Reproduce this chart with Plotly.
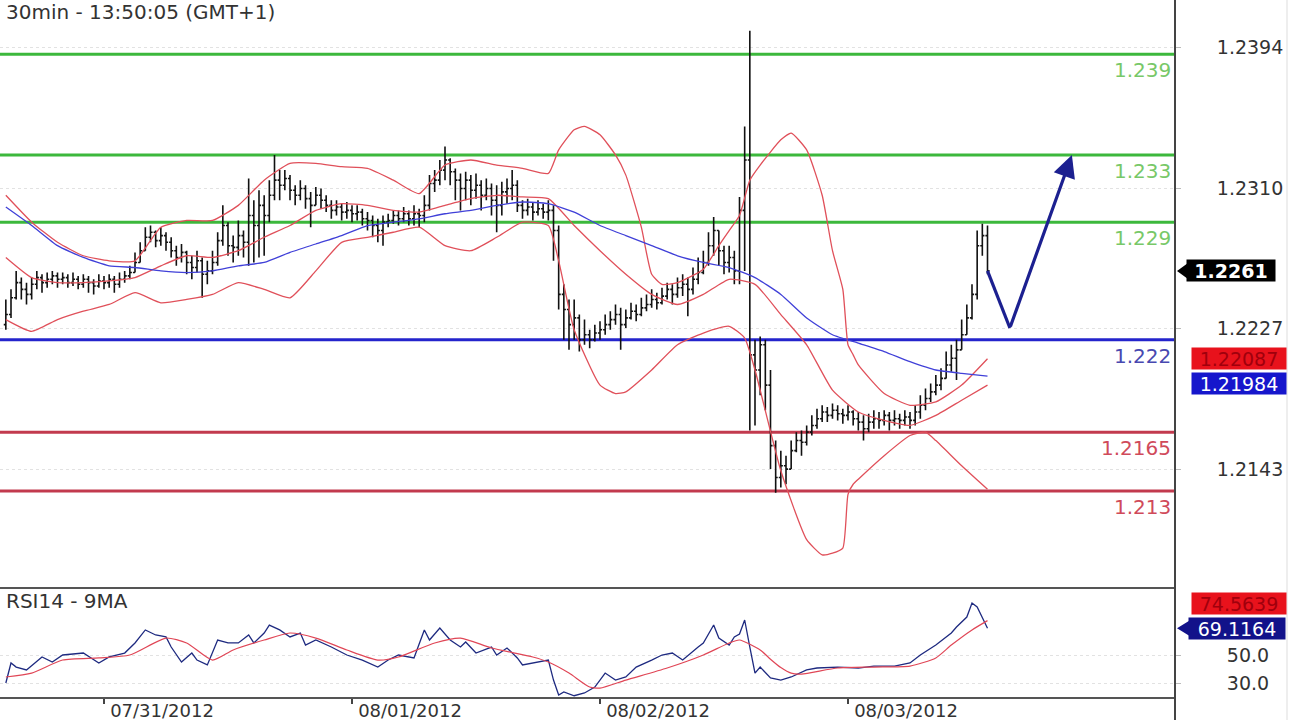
import plotly.graph_objects as go
import pandas as pd

# ---------------- data ----------------
bar_start = "2012-07-30 14:30"
n_bars = 191
bar_times = pd.date_range(bar_start, periods=n_bars, freq="30min")

opens = [1.2229,1.2235,1.2245,1.2254,1.2250,1.2247,1.2253,1.2257,1.2254,1.2256,
         1.2258,1.2256,1.2257,1.2254,1.2256,1.2253,1.2256,1.2254,1.2252,1.2255,
         1.2254,1.2256,1.2253,1.2256,1.2258,1.2260,1.2266,1.2273,1.2281,1.2284,
         1.2279,1.2282,1.2278,1.2273,1.2269,1.2272,1.2266,1.2263,1.2267,1.2259,
         1.2261,1.2266,1.2279,1.2288,1.2276,1.2275,1.2282,1.2278,1.2294,1.2288,
         1.2300,1.2294,1.2306,1.2315,1.2312,1.2316,1.2309,1.2306,1.2310,1.2304,
         1.2300,1.2306,1.2303,1.2300,1.2297,1.2299,1.2296,1.2297,1.2295,1.2296,
         1.2292,1.2291,1.2288,1.2285,1.2290,1.2291,1.2294,1.2292,1.2295,1.2292,
         1.2295,1.2294,1.2300,1.2313,1.2315,1.2321,1.2327,1.2320,1.2315,1.2310,
         1.2315,1.2309,1.2312,1.2306,1.2310,1.2303,1.2300,1.2308,1.2310,1.2312,
         1.2300,1.2297,1.2299,1.2296,1.2298,1.2296,1.2297,1.2285,1.2247,1.2238,
         1.2229,1.2233,1.2220,1.2223,1.2220,1.2224,1.2226,1.2229,1.2232,1.2235,
         1.2229,1.2233,1.2237,1.2235,1.2239,1.2241,1.2244,1.2242,1.2246,1.2250,
         1.2247,1.2251,1.2253,1.2250,1.2256,1.2260,1.2266,1.2276,1.2285,1.2273,
         1.2266,1.2269,1.2261,1.2297,1.2327,1.2211,1.2202,1.2217,1.2193,1.2157,
         1.2138,1.2145,1.2143,1.2154,1.2160,1.2159,1.2165,1.2169,1.2173,1.2177,
         1.2175,1.2178,1.2176,1.2175,1.2177,1.2173,1.2171,1.2167,1.2171,1.2173,
         1.2172,1.2175,1.2172,1.2173,1.2172,1.2174,1.2172,1.2177,1.2181,1.2185,
         1.2189,1.2193,1.2197,1.2205,1.2209,1.2214,1.2223,1.2233,1.2247,1.2276,
         1.2282]

highs = [1.2244,1.2250,1.2261,1.2257,1.2254,1.2257,1.2261,1.2259,1.2260,1.2261,
         1.2260,1.2260,1.2259,1.2260,1.2258,1.2259,1.2258,1.2256,1.2259,1.2258,
         1.2259,1.2258,1.2260,1.2261,1.2264,1.2272,1.2278,1.2287,1.2288,1.2285,
         1.2287,1.2284,1.2281,1.2276,1.2277,1.2273,1.2270,1.2273,1.2269,1.2267,
         1.2273,1.2284,1.2300,1.2290,1.2282,1.2291,1.2285,1.2316,1.2303,1.2309,
         1.2306,1.2315,1.2330,1.2321,1.2321,1.2318,1.2312,1.2315,1.2312,1.2308,
         1.2311,1.2310,1.2306,1.2303,1.2303,1.2301,1.2302,1.2300,1.2300,1.2298,
         1.2296,1.2294,1.2292,1.2294,1.2295,1.2297,1.2297,1.2299,1.2297,1.2300,
         1.2298,1.2306,1.2318,1.2321,1.2327,1.2335,1.2328,1.2322,1.2319,1.2320,
         1.2318,1.2319,1.2315,1.2316,1.2313,1.2312,1.2314,1.2316,1.2321,1.2315,
         1.2303,1.2304,1.2302,1.2303,1.2301,1.2303,1.2300,1.2288,1.2253,1.2244,
         1.2244,1.2235,1.2232,1.2226,1.2229,1.2231,1.2235,1.2237,1.2241,1.2239,
         1.2238,1.2242,1.2241,1.2245,1.2247,1.2250,1.2248,1.2251,1.2254,1.2253,
         1.2257,1.2259,1.2257,1.2263,1.2269,1.2273,1.2284,1.2293,1.2285,1.2276,
         1.2276,1.2273,1.2305,1.2347,1.2404,1.2220,1.2222,1.2220,1.2202,1.2160,
         1.2154,1.2151,1.2160,1.2165,1.2166,1.2169,1.2175,1.2179,1.2181,1.2180,
         1.2182,1.2181,1.2179,1.2181,1.2178,1.2177,1.2175,1.2176,1.2178,1.2177,
         1.2178,1.2177,1.2178,1.2176,1.2178,1.2177,1.2181,1.2187,1.2191,1.2194,
         1.2199,1.2203,1.2213,1.2217,1.2220,1.2232,1.2241,1.2253,1.2285,1.2289,
         1.2288]

lows = [1.2226,1.2233,1.2244,1.2244,1.2241,1.2244,1.2250,1.2248,1.2251,1.2253,
        1.2251,1.2253,1.2251,1.2252,1.2250,1.2251,1.2248,1.2247,1.2251,1.2250,
        1.2251,1.2248,1.2251,1.2254,1.2256,1.2260,1.2266,1.2273,1.2278,1.2275,
        1.2276,1.2273,1.2269,1.2264,1.2266,1.2259,1.2256,1.2260,1.2245,1.2253,
        1.2259,1.2264,1.2276,1.2270,1.2266,1.2270,1.2269,1.2264,1.2266,1.2269,
        1.2270,1.2290,1.2303,1.2303,1.2309,1.2303,1.2300,1.2303,1.2298,1.2287,
        1.2300,1.2298,1.2296,1.2292,1.2294,1.2291,1.2292,1.2290,1.2291,1.2288,
        1.2285,1.2281,1.2278,1.2276,1.2287,1.2289,1.2288,1.2290,1.2288,1.2288,
        1.2287,1.2290,1.2297,1.2308,1.2312,1.2315,1.2312,1.2303,1.2297,1.2303,
        1.2300,1.2304,1.2297,1.2303,1.2294,1.2284,1.2294,1.2301,1.2303,1.2296,
        1.2292,1.2294,1.2291,1.2294,1.2292,1.2291,1.2267,1.2238,1.2220,1.2214,
        1.2220,1.2213,1.2217,1.2215,1.2219,1.2220,1.2223,1.2226,1.2229,1.2214,
        1.2227,1.2232,1.2231,1.2234,1.2237,1.2239,1.2238,1.2241,1.2244,1.2241,
        1.2245,1.2246,1.2234,1.2247,1.2253,1.2259,1.2264,1.2270,1.2264,1.2259,
        1.2260,1.2253,1.2253,1.2261,1.2166,1.2169,1.2187,1.2178,1.2143,1.2129,
        1.2132,1.2134,1.2143,1.2153,1.2151,1.2157,1.2163,1.2167,1.2171,1.2171,
        1.2173,1.2172,1.2170,1.2172,1.2169,1.2166,1.2160,1.2165,1.2167,1.2167,
        1.2169,1.2166,1.2169,1.2167,1.2169,1.2167,1.2169,1.2173,1.2178,1.2183,
        1.2187,1.2190,1.2197,1.2201,1.2196,1.2214,1.2223,1.2232,1.2244,1.2270,
        1.2259]

closes = [1.2235,1.2245,1.2254,1.2250,1.2247,1.2253,1.2257,1.2254,1.2256,1.2258,
          1.2256,1.2257,1.2254,1.2256,1.2253,1.2256,1.2254,1.2252,1.2255,1.2254,
          1.2256,1.2253,1.2256,1.2258,1.2260,1.2266,1.2273,1.2281,1.2284,1.2279,
          1.2282,1.2278,1.2273,1.2269,1.2272,1.2266,1.2263,1.2267,1.2259,1.2261,
          1.2266,1.2279,1.2288,1.2276,1.2275,1.2282,1.2278,1.2294,1.2288,1.2300,
          1.2294,1.2306,1.2315,1.2312,1.2316,1.2309,1.2306,1.2310,1.2304,1.2300,
          1.2306,1.2303,1.2300,1.2297,1.2299,1.2296,1.2297,1.2295,1.2296,1.2292,
          1.2291,1.2288,1.2285,1.2290,1.2291,1.2294,1.2292,1.2295,1.2292,1.2295,
          1.2294,1.2300,1.2313,1.2315,1.2321,1.2327,1.2320,1.2315,1.2310,1.2315,
          1.2309,1.2312,1.2306,1.2310,1.2303,1.2300,1.2308,1.2310,1.2312,1.2300,
          1.2297,1.2299,1.2296,1.2298,1.2296,1.2297,1.2285,1.2247,1.2238,1.2229,
          1.2233,1.2220,1.2223,1.2220,1.2224,1.2226,1.2229,1.2232,1.2235,1.2229,
          1.2233,1.2237,1.2235,1.2239,1.2241,1.2244,1.2242,1.2246,1.2250,1.2247,
          1.2251,1.2253,1.2250,1.2256,1.2260,1.2266,1.2276,1.2285,1.2273,1.2266,
          1.2269,1.2261,1.2297,1.2327,1.2211,1.2202,1.2217,1.2193,1.2157,1.2138,
          1.2145,1.2143,1.2154,1.2160,1.2159,1.2165,1.2169,1.2173,1.2177,1.2175,
          1.2178,1.2176,1.2175,1.2177,1.2173,1.2171,1.2167,1.2171,1.2173,1.2172,
          1.2175,1.2172,1.2173,1.2172,1.2174,1.2172,1.2177,1.2181,1.2185,1.2189,
          1.2193,1.2197,1.2205,1.2209,1.2214,1.2223,1.2233,1.2247,1.2276,1.2282,
          1.2261]

# Bollinger bands (upper / middle / lower) and long moving average, read at sampled bars
upper_idx = [0,5,10,15,20,25,30,35,40,45,50,55,60,65,70,75,80,85,90,95,100,105,107,110,112,
             115,118,120,123,125,127,130,135,138,140,142,144,146,150,152,155,158,160,162,163,
             164,165,170,175,180,185,190]
upper_vals = [1.2306,1.2290,1.2278,1.2270,1.2267,1.2267,1.2287,1.2291,1.2291,1.2300,
              1.2315,1.2325,1.2325,1.2323,1.2322,1.2315,1.2307,1.2324,1.2327,1.2324,
              1.2322,1.2319,1.2333,1.2345,1.2347,1.2342,1.2330,1.2318,1.2287,1.2259,
              1.2253,1.2254,1.2262,1.2276,1.2285,1.2294,1.2315,1.2324,1.2339,1.2343,
              1.2333,1.2306,1.2273,1.2250,1.2217,1.2211,1.2205,1.2188,1.2181,1.2183,
              1.2193,1.22087]

middle_idx = list(range(0, 191, 5))
middle_vals = [1.2269,1.2257,1.2254,1.2254,1.2255,1.2257,1.2264,1.2270,1.2269,1.2273,
               1.2281,1.2288,1.2297,1.2301,1.2300,1.2297,1.2296,1.2300,1.2304,1.2306,
               1.2305,1.2304,1.2288,1.2273,1.2259,1.2247,1.2241,1.2247,1.2256,1.2253,
               1.2235,1.2217,1.2190,1.2177,1.2172,1.2169,1.2175,1.2184,1.2193]

lower_idx = [0,5,10,15,20,25,30,35,40,45,50,55,60,65,70,75,80,85,90,95,100,105,107,110,115,
             118,120,125,130,135,140,143,145,150,155,158,160,162,163,164,165,170,175,178,180,
             185,190]
lower_vals = [1.2232,1.2225,1.2232,1.2237,1.2241,1.2248,1.2242,1.2244,1.2247,1.2254,
              1.2250,1.2245,1.2261,1.2278,1.2281,1.2284,1.2287,1.2276,1.2273,1.2281,
              1.2290,1.2288,1.2267,1.2226,1.2193,1.2188,1.2189,1.2202,1.2217,1.2224,
              1.2228,1.2221,1.2202,1.2142,1.2101,1.2092,1.2093,1.2096,1.2128,1.2134,
              1.2137,1.2151,1.2163,1.2165,1.2160,1.2145,1.2131]

ma_idx = list(range(0, 191, 5))
ma_vals = [1.2299,1.2288,1.2276,1.2269,1.2264,1.2263,1.2261,1.2260,1.2261,1.2264,
           1.2266,1.2272,1.2277,1.2282,1.2288,1.2290,1.2292,1.2295,1.2297,1.2300,
           1.2302,1.2301,1.2296,1.2288,1.2282,1.2276,1.2270,1.2266,1.2263,1.2257,
           1.2247,1.2233,1.2223,1.2218,1.2213,1.2207,1.2202,1.2200,1.21984]

# RSI14 and its 9-period MA
rsi_idx = [0,1,2,4,7,9,11,15,18,20,23,25,27,29,31,32,34,36,37,39,41,43,45,47,48,50,51,53,55,57,
           58,60,63,66,69,72,74,76,79,81,82,84,86,88,89,91,94,95,97,99,100,103,105,106,107,108,
           110,112,114,116,118,120,122,125,127,129,131,134,135,137,138,140,141,142,143,144,145,
           146,148,150,152,155,157,161,165,168,172,175,177,180,183,184,186,187,188,190]
rsi_vals = [30.0,44.3,41.4,39.3,48.6,45.0,50.0,51.4,44.3,48.6,51.4,58.6,67.9,64.3,62.9,55.7,
            45.0,51.4,46.4,42.9,60.7,58.6,58.6,64.3,58.6,65.7,71.4,67.9,62.9,65.7,57.1,60.7,
            55.7,50.0,46.4,41.4,46.4,50.0,47.9,67.9,60.7,69.3,60.7,55.7,59.3,51.4,55.7,50.0,
            55.0,47.9,42.9,45.0,46.4,32.1,21.4,23.6,20.9,22.9,27.1,37.1,32.1,34.3,41.4,46.4,
            50.0,51.4,46.4,55.7,58.6,71.4,62.1,57.1,62.9,65.0,75.0,55.7,37.1,41.4,33.6,32.1,
            34.3,39.3,40.7,41.4,40.7,42.1,42.1,44.3,50.0,57.1,65.7,70.0,77.1,87.1,84.3,69.1164]

rsi_ma_idx = [0,5,11,18,24,31,35,40,44,50,55,60,66,72,76,83,88,94,102,105,109,113,115,120,
              128,135,140,142,146,148,150,152,154,161,168,175,180,183,187,190]
rsi_ma_vals = [34.3,37.1,46.4,47.9,50.0,62.1,58.6,46.4,53.6,60.7,65.7,62.1,53.6,46.4,48.6,
               58.6,62.1,55.0,48.6,45.0,37.1,27.1,26.4,32.1,40.7,50.0,58.6,60.7,53.6,47.0,
               41.0,37.0,36.4,40.7,41.4,42.1,47.9,57.1,67.9,74.5639]

# horizontal support / resistance levels
levels = [1.239, 1.233, 1.229, 1.222, 1.2165, 1.213]
level_labels = ["1.239", "1.233", "1.229", "1.222", "1.2165", "1.213"]
level_kinds = ["res", "res", "res", "pivot", "sup", "sup"]

# projected path (arrow)
forecast_times = ["2012-08-03 13:30", "2012-08-03 15:40", "2012-08-03 21:40"]
forecast_prices = [1.2261, 1.2227, 1.2330]

price_ticks = [1.2143, 1.2227, 1.2310, 1.2394]
rsi_ticks = [30, 50]
date_ticks = ["2012-07-31", "2012-08-01", "2012-08-02", "2012-08-03"]

# ---------------- styling ----------------
W, H = 1289, 720
ML, MR, MT, MB = 0, 114, 0, 23
PW, PH = W - ML - MR, H - MT - MB
SPLIT = 588  # px, separator between price panel and RSI panel


def px_x(px):
    return (px - ML) / PW


def px_y(py):
    return (H - MB - py) / PH


FONT = "DejaVu Sans"
level_line_col = {"res": "#3cb83c", "pivot": "#2424cc", "sup": "#c23a4e"}
level_text_col = {"res": "#78c868", "pivot": "#4848b0", "sup": "#d04a5a"}
BAND_RED = "#e0505a"
MA_BLUE = "#4040d8"

fig = go.Figure()

t = lambda idx: [bar_times[i] for i in idx]

fig.add_trace(go.Scatter(x=t(upper_idx), y=upper_vals, mode="lines",
                         line=dict(color=BAND_RED, width=1.3, shape="spline", smoothing=0.5),
                         hoverinfo="skip", showlegend=False))
fig.add_trace(go.Scatter(x=t(middle_idx), y=middle_vals, mode="lines",
                         line=dict(color=BAND_RED, width=1.3, shape="spline", smoothing=0.5),
                         hoverinfo="skip", showlegend=False))
fig.add_trace(go.Scatter(x=t(lower_idx), y=lower_vals, mode="lines",
                         line=dict(color=BAND_RED, width=1.3, shape="spline", smoothing=0.5),
                         hoverinfo="skip", showlegend=False))
fig.add_trace(go.Scatter(x=t(ma_idx), y=ma_vals, mode="lines",
                         line=dict(color=MA_BLUE, width=1.3, shape="spline", smoothing=0.5),
                         hoverinfo="skip", showlegend=False))

fig.add_trace(go.Ohlc(x=bar_times, open=opens, high=highs, low=lows, close=closes,
                      increasing=dict(line=dict(color="#111111", width=1.6)),
                      decreasing=dict(line=dict(color="#111111", width=1.6)),
                      tickwidth=0.4, hoverinfo="skip", showlegend=False))

fig.add_trace(go.Scatter(x=forecast_times[:2], y=forecast_prices[:2], mode="lines",
                         line=dict(color="#1c2090", width=3.2), hoverinfo="skip",
                         showlegend=False))
fig.add_annotation(x=forecast_times[2], y=forecast_prices[2], ax=forecast_times[1],
                   ay=forecast_prices[1], xref="x", yref="y", axref="x", ayref="y",
                   text="", showarrow=True, arrowhead=2, arrowsize=1.4, arrowwidth=3.2,
                   arrowcolor="#1c2090", standoff=0)

fig.add_trace(go.Scatter(x=t(rsi_idx), y=rsi_vals, mode="lines", yaxis="y2",
                         line=dict(color="#1e2a80", width=1.3), hoverinfo="skip",
                         showlegend=False))
fig.add_trace(go.Scatter(x=t(rsi_ma_idx), y=rsi_ma_vals, mode="lines", yaxis="y2",
                         line=dict(color="#e04656", width=1.2, shape="spline", smoothing=0.6),
                         hoverinfo="skip", showlegend=False))

# level lines + labels
for v, lab, kind in zip(levels, level_labels, level_kinds):
    fig.add_shape(type="line", xref="x domain", x0=0, x1=1, yref="y", y0=v, y1=v,
                  line=dict(color=level_line_col[kind], width=3), layer="below")
    fig.add_annotation(x=1, xref="x domain", y=v, yref="y", text=lab, showarrow=False,
                       xanchor="right", yanchor="top", xshift=-2, yshift=-2,
                       font=dict(family=FONT, size=20, color=level_text_col[kind]))

# panel frame lines
fig.add_shape(type="line", xref="paper", yref="paper", x0=0, x1=1,
              y0=px_y(SPLIT), y1=px_y(SPLIT), line=dict(color="#555555", width=2))
fig.add_shape(type="line", xref="paper", yref="paper", x0=1, x1=1,
              y0=px_y(H), y1=px_y(0), line=dict(color="#444444", width=2))
fig.add_shape(type="line", xref="paper", yref="paper", x0=px_x(1287), x1=px_x(1287),
              y0=px_y(H), y1=px_y(0), line=dict(color="#dddddd", width=1))

# titles
fig.add_annotation(x=px_x(4), y=px_y(12), xref="paper", yref="paper",
                   text="30min - 13:50:05 (GMT+1)", showarrow=False, xanchor="left",
                   yanchor="middle", font=dict(family=FONT, size=20, color="#333333"))
fig.add_annotation(x=px_x(4), y=px_y(601), xref="paper", yref="paper",
                   text="RSI14 - 9MA", showarrow=False, xanchor="left", yanchor="middle",
                   font=dict(family=FONT, size=20, color="#333333"))


# value boxes on the right scale
def value_box(val, yref, text, bg, fg, cx, w, yshift=0, bold=False):
    fig.add_annotation(x=px_x(cx), xref="paper", y=val, yref=yref, text=text,
                       showarrow=False, xanchor="center", yanchor="middle", yshift=yshift,
                       width=w, height=21, bgcolor=bg, borderpad=0,
                       font=dict(family=FONT, size=19, color=fg,
                                 weight="bold" if bold else "normal"))


last_close = closes[-1]
value_box(last_close, "y", f"{last_close:.4f}", "#000000", "#ffffff", 1231, 88, bold=True)
value_box(upper_vals[-1], "y", f"{upper_vals[-1]:.5f}", "#e8121c", "#a0000c", 1239, 94)
value_box(ma_vals[-1], "y", f"{ma_vals[-1]:.5f}", "#1616cc", "#ffffff", 1239, 94, yshift=-7)
value_box(rsi_ma_vals[-1], "y2", f"{rsi_ma_vals[-1]:.4f}", "#e8121c", "#a0000c", 1239, 94,
          yshift=17)
value_box(rsi_vals[-1], "y2", f"{rsi_vals[-1]:.4f}", "#12128a", "#ffffff", 1237, 96)

# pointers of the boxes
dp = 8 / 16800.0
fig.add_shape(type="path", xref="paper", yref="y",
              path=f"M {px_x(1177)},{last_close} L {px_x(1188)},{last_close + dp} "
                   f"L {px_x(1188)},{last_close - dp} Z",
              fillcolor="#000000", line=dict(width=0))
dr = 8 / 1.4
fig.add_shape(type="path", xref="paper", yref="y2",
              path=f"M {px_x(1177)},{rsi_vals[-1]} L {px_x(1190)},{rsi_vals[-1] + dr} "
                   f"L {px_x(1190)},{rsi_vals[-1] - dr} Z",
              fillcolor="#12128a", line=dict(width=0))

# ---------------- axes ----------------
price_per_px = 1 / 16800.0
p_top = 1.2227 + 328 * price_per_px
p_bot = 1.2227 - (SPLIT - 328) * price_per_px
r_per_px = 1 / 1.4
r_top = 30 + (683 - SPLIT) * r_per_px
r_bot = 30 - (H - MB - 683) * r_per_px

fig.update_layout(
    width=W, height=H,
    margin=dict(l=ML, r=MR, t=MT, b=MB, pad=0, autoexpand=False),
    paper_bgcolor="#ffffff", plot_bgcolor="#ffffff",
    showlegend=False,
    xaxis=dict(
        type="date", domain=[0, 1], anchor="y2", automargin=False,
        range=["2012-07-30 13:56:08", "2012-08-04 07:38:42"],
        rangeslider=dict(visible=False),
        tickvals=date_ticks, tickformat="%m/%d/%Y",
        ticks="outside", ticklen=5, tickcolor="#444444", tickwidth=1.5,
        ticklabelshift=58, ticklabelstandoff=-9,
        showgrid=False, zeroline=False,
        showline=True, linecolor="#555555", linewidth=2,
        tickfont=dict(family=FONT, size=18, color="#333333"),
    ),
    yaxis=dict(
        domain=[px_y(SPLIT), 1], range=[p_bot, p_top], side="right", anchor="x",
        automargin=False,
        tickvals=price_ticks, tickformat=".4f",
        ticks="outside", ticklen=5, tickcolor="#bbbbbb", ticklabelstandoff=32,
        showgrid=True, gridcolor="#e2e2e2", griddash="dot", gridwidth=1,
        zeroline=False, showline=False,
        tickfont=dict(family=FONT, size=19, color="#333333"),
    ),
    yaxis2=dict(
        domain=[0, px_y(SPLIT)], range=[r_bot, r_top], side="right", anchor="x",
        automargin=False,
        tickvals=rsi_ticks, tickformat=".1f",
        ticks="outside", ticklen=5, tickcolor="#bbbbbb", ticklabelstandoff=42,
        showgrid=True, gridcolor="#e2e2e2", griddash="dot", gridwidth=1,
        zeroline=False, showline=False,
        tickfont=dict(family=FONT, size=19, color="#333333"),
    ),
)

fig.write_html("out.html",
               config={"displayModeBar": False},
               post_script="document.body.style.margin='0';"
                           "document.body.style.overflow='hidden';")
